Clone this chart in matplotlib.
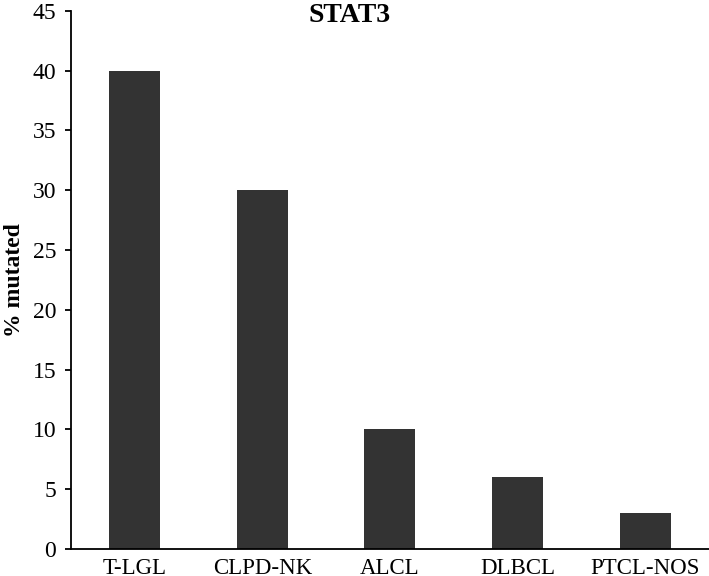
import matplotlib
matplotlib.use("Agg")
import matplotlib.pyplot as plt

categories = ["T-LGL", "CLPD-NK", "ALCL", "DLBCL", "PTCL-NOS"]
pct_mutated = [40, 30, 10, 6, 3]
y_ticks = [0, 5, 10, 15, 20, 25, 30, 35, 40, 45]

plt.rcParams["font.family"] = ["Liberation Serif", "DejaVu Serif"]
plt.rcParams["font.size"] = 17

fig = plt.figure(figsize=(7.09, 5.76), dpi=100)
ax = fig.add_axes([0.1, 0.047, 0.9, 0.934])

x = list(range(len(categories)))
ax.bar(x, pct_mutated, width=0.4, color="#333333")

ax.set_xlim(-0.5, len(categories) - 0.5)
ax.set_ylim(0, 45)
ax.set_yticks(y_ticks)
ax.set_xticks(x)
ax.set_xticklabels(categories, fontsize=16.5)
ax.tick_params(axis="x", length=0, pad=6.5)
ax.tick_params(axis="y", length=4.5, width=1.3, direction="out", pad=6)

for side in ("top", "right"):
    ax.spines[side].set_visible(False)
for side in ("left", "bottom"):
    ax.spines[side].set_linewidth(1.3)

ax.set_ylabel("% mutated", fontweight="bold", fontsize=17)
ax.yaxis.set_label_coords(-0.072, 0.5)
fig.text(350 / 709, 1 - 15 / 576, "STAT3", ha="center", va="center",
         fontweight="bold", fontsize=20)

fig.savefig("out.png", dpi=100)
